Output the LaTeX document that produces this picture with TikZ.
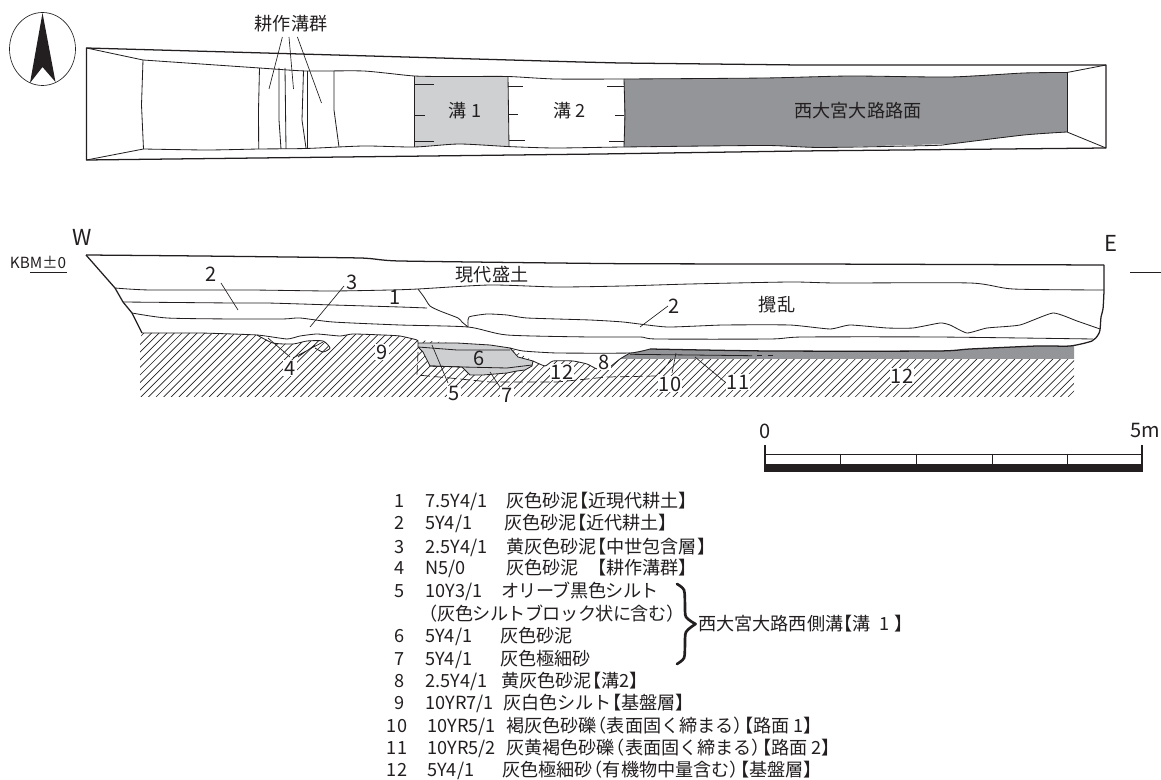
\documentclass[tikz,border=0pt]{standalone}
\usepackage{fontspec}
\setmainfont{Noto Sans CJK JP}
\newcommand{\LB}{\kern-.48em 【}
\newcommand{\RB}{】\kern-.48em }
\newcommand{\LP}{\kern-.45em （}
\newcommand{\RP}{）\kern-.45em }
\definecolor{ink}{HTML}{231F20}
\definecolor{roadgray}{HTML}{939598}
\definecolor{ditchgray}{HTML}{CFD0D2}
\definecolor{fillgray}{HTML}{CDCFD1}
\tikzset{
  lineA/.style={draw=ink,line width=0.62pt,line join=round},
  lineB/.style={draw=ink,line width=0.95pt,line join=round},
  leader/.style={draw=ink,line width=0.5pt},
  txt/.style={inner sep=0pt,text=ink,font=\fontsize{13.6}{16}\selectfont},
  lab/.style={txt,font=\fontsize{15}{17}\selectfont},
  num/.style={lab,fill=white,inner sep=0.8pt},
  row/.style={txt,anchor=base west},
  rownum/.style={txt,anchor=base},
}
\begin{document}
\begin{tikzpicture}[x=0.75pt,y=-0.75pt]
\useasboundingbox (0,0) rectangle (1161,780);
% north arrow
\draw[ink,line width=0.5pt] (42.5,49) ellipse [x radius=33,y radius=36.5];
\fill[ink] (42.5,13) -- (55.5,82) -- (42.5,67) -- (30,83) -- cycle;
% plan fills
\fill[ditchgray] (414.5,76) -- (459,76.5) -- (508,76.5) -- (509,146.6) -- (459,144) -- (414.5,147) -- cycle;
\fill[roadgray] (624,79) -- (765,78) -- (850,76) -- (950,77) -- (1024,73) -- (1067,72.5) -- (1067,132) -- (1024,135) -- (950,144) -- (821,147.5) -- (765,145.5) -- (624,147) -- cycle;
% plan outlines
\draw[lineB] (86.5,48) -- (300,54) -- (580,62) -- (620,63) -- (800,65) -- (1106,65) -- (1106,148) -- (800,151) -- (600,154) -- (86.5,160) -- cycle;
\draw[lineA] (86.5,48) -- (143,60) (86.5,160) -- (143.5,149) (1106,65) -- (1067,72.5) (1106,148) -- (1067,132);
\draw[lineA] plot[smooth,tension=.4] coordinates {(143,60) (259.5,68) (306,71) (363.5,71) (414.5,76) (459,76.5) (508,76.5) (555,79) (624,79) (765,78) (850,76) (950,77) (1024,73) (1067,72.5)};
\draw[lineA] plot[smooth,tension=.4] coordinates {(143.5,149) (207,150) (259.5,149) (306,148.5) (363.5,146) (414.5,147) (459,144) (509,146.6) (555,148) (624,147) (765,145.5) (821,147.5) (932,145.5) (950,144) (1024,135) (1067,132)};
\draw[lineA] (143,60) -- (141.5,105) -- (143.5,149);
\draw[lineA] (259.5,68) -- (258.5,110) -- (258.7,149);
\draw[lineA] (279,68) -- (279,120) -- (281,149);
\draw[lineA] (285,68) -- (286,149);
\draw[lineA] (303.5,71) -- (302,120) -- (306,148);
\draw[lineA] (307,71) -- (307,148);
\draw[lineA] (334,71) -- (334,110) -- (339,147);
\draw[lineA] (414.5,76) -- (414.5,147);
\draw[lineA] (508,76.5) -- (509,146.6);
\draw[lineA] (624,79) -- (625,115) -- (624,147);
\draw[lineA] (1067,72.5) -- (1067,132);
\draw[lineA] (414.5,84) -- (434,84) (414.5,115) -- (425,115) (414.5,141) -- (434,141);
\draw[lineA] (508,86) -- (523,86) (508,114.5) -- (518,114.5) (509,140) -- (525,140);
\draw[lineA] (607,86.7) -- (624,86.7) (615,115) -- (624,115) (609,141) -- (624,141);
\draw[leader] (282.4,37) -- (269,89) (289,37) -- (293.5,89) (297.4,37) -- (321.5,103);
\node[txt] (gunlabel) at (291,24) {耕作溝群};
\node[txt] (ditch1) at (465,111) {溝 1};
\node[txt] (ditch2) at (569.5,111) {溝 2};
\node[txt] (road) at (858,111) {西大宮大路路面};
% section: hatch
\begin{scope}
\clip (142,333) -- (200,333) -- (257,335) -- (273,343) -- (293,344) -- (307,341) -- (323,341) -- (330,348) -- (340,336) -- (353,334) -- (383,335) -- (400,336) -- (417,340) -- (510,348) -- (533,361) -- (545,366) -- (553,361) -- (573,361) -- (587,364) -- (597,369) -- (607,369) -- (620,359) -- (1074,359) -- (1074,397) -- (140,397) -- (140,340) -- cycle;
\foreach \h in {80,87.6,...,1080} \draw[ink,line width=0.48pt] (\h,397) -- (\h+64,333);
\end{scope}
% section: fills
\fill[roadgray] (620,359) -- (630,353) -- (650,349) -- (770,351) -- (937,351) -- (970,349) -- (1037,346) -- (1074,346) -- (1074,359) -- cycle;
\filldraw[fill=fillgray,lineA] (418,343) -- (457,343) -- (490,345) -- (510,348) -- (518,357) -- (533,361) -- (532,366) -- (525,370) -- (517,371) -- (507,373) -- (483,375) -- (470,375) -- (462,367) -- (430,366) -- (423,352) -- (418,347) -- cycle;
\draw[lineA] (418,347) -- (457,350) -- (510,350);
\draw[lineA] (430,366) -- (462,367) -- (507,368) -- (532,365);
% section: lines
\draw[lineB] plot[smooth,tension=.3] coordinates {(86,255) (200,256) (360,258) (400,261) (623,263.7) (807,264) (1104,265)};
\draw[lineB] (86,255) -- (115,288) -- (123,302) -- (132,313) -- (142,333);
\draw[lineB] plot[smooth,tension=.4] coordinates {(1104,265) (1104,290) (1103,309) (1101,317) (1100,330) (1098,335) (1092,341) (1070,346) (1037,346) (970,349) (937,351) (770,351) (650,349)};
\draw[lineA] plot[smooth,tension=.4] coordinates {(115,288) (150,290) (250,290) (330,291) (390,290) (418,289) (490,285) (557,287) (623,286) (690,284) (790,282) (837,283) (970,283) (1013,289) (1104,290)};
\draw[lineA] plot[smooth,tension=.4] coordinates {(123,302) (233,303) (267,303) (333,305) (400,307) (427,308)};
\draw[lineA] plot[smooth,tension=.4] coordinates {(418,289) (424,297) (430,306) (440,311) (458,318) (462,322) (468,327)};
\draw[lineA] plot[smooth,tension=.4] coordinates {(132,313) (167,318) (233,319) (283,319) (300,318) (333,322) (400,325) (468,327) (507,335) (590,337) (640,337) (657,339) (770,339) (803,337) (937,337) (1093,339)};
\draw[lineA] plot[smooth,tension=.3] coordinates {(468,327) (469,317) (487,314) (507,315) (527,318) (590,320) (623,322) (667,327) (723,325) (790,325) (830,329) (850,325) (887,328) (913,328) (940,323) (950,325) (967,333) (987,328) (1020,325) (1053,313) (1077,321) (1100,329)};
\draw[lineA] plot[smooth,tension=.3] coordinates {(142,333) (200,333) (257,335) (287,339) (300,336) (317,334) (340,336) (353,334) (383,335) (400,336) (417,340) (418,343)};
\draw[lineA] plot[smooth,tension=.4] coordinates {(257,335) (273,343) (293,344) (307,341) (323,341) (330,348) (323,352) (315,348)};
\draw[lineA] plot[smooth,tension=.3] coordinates {(510,348) (523,351) (557,353) (630,353) (650,349)};
\draw[lineA] plot[smooth,tension=.3] coordinates {(533,361) (545,366) (553,361) (573,361) (587,364) (597,369) (607,369) (620,359) (630,353)};
\draw[ink,line width=0.6pt] (630,354.3) -- (752,355.7);
\draw[ink,line width=0.6pt] (757,355.7) -- (762,355.7) (768,355.7) -- (773,355.7);
\draw[ink,line width=0.55pt,dash pattern=on 7pt off 3pt] (418,352) -- (417,375) -- (450,378) -- (490,382) -- (557,382) -- (607,377) -- (657,376) -- (667,365) -- (671,359);
% leaders
\draw[leader] (221,283) -- (238,310) (344,286) -- (310,327) (640,327) -- (668,306);
\draw[leader] (268,338) -- (290,357) (323,342) -- (293,358) (315,345) -- (298,357);
\draw[leader] (432,345) -- (448,383) (490,372) -- (500,387) (676,353) -- (672,373) (695,357) -- (725,382);
% section labels
\node[txt] (lw) at (82,237) {\fontsize{16.5}{18}\selectfont W};
\node[txt] (le) at (1111,243) {\fontsize{16.5}{18}\selectfont E};
\node[txt,font=\fontsize{11.5}{13}\selectfont] (kbm) at (38,262) {KBM±0};
\coordinate (kbmA) at (30,272); \coordinate (kbmB) at (67,272);
\draw[ink,line width=0.55pt] (kbmA) -- (kbmB);
\coordinate (etickA) at (1130,272); \coordinate (etickB) at (1161,272);
\draw[ink,line width=0.55pt] (etickA) -- (etickB);
\node[lab] (n2a) at (211,274) {2};
\node[lab] (n3) at (352,282) {3};
\node[lab] (n1) at (395,297) {1};
\node[num] (n4) at (290,368) {4};
\node[num] (n9) at (382,352) {9};
\node[txt] (modern) at (492,275) {現代盛土};
\node[txt] (distb) at (777,305) {攪乱};
\node[lab] (n2b) at (674,306) {2};
\node[lab] (n6) at (479,358) {6};
\node[num] (n8) at (604,362) {8};
\node[num] (n12a) at (562,372) {12};
\node[num] (n5) at (454,394) {5};
\node[num] (n7) at (507,395) {7};
\node[num] (n10) at (670,384) {10};
\node[num] (n11) at (738,382) {11};
\node[num] (n12b) at (902,376) {12};
% scale bar
\draw[ink,line width=0.5pt] (765,454) -- (1141,454);
\fill[ink] (764,464) rectangle (1143,472);
\draw[ink,line width=1.1pt] (765,445) -- (765,472) (1142,445) -- (1142,472);
\foreach \h in {840,916,992,1067} \draw[ink,line width=0.5pt] (\h,454) -- (\h,464);
\node[lab] (s0) at (765,431) {0};
\node[lab] (s5) at (1145,431) {5m};
% legend
\node[rownum] (r1) at (400,508) {1};   \node[row] (c1) at (425,508) {7.5Y4/1}; \node[row] (t1) at (506,508) {灰色砂泥\LB 近現代耕土\RB};
\node[rownum] (r2) at (400,530) {2};   \node[row] (c2) at (425,530) {5Y4/1};   \node[row] (t2) at (504,530) {灰色砂泥\LB 近代耕土\RB};
\node[rownum] (r3) at (400,553) {3};   \node[row] (c3) at (425,553) {2.5Y4/1}; \node[row] (t3) at (506,553) {黄灰色砂泥\LB 中世包含層\RB};
\node[rownum] (r4) at (400,575) {4};   \node[row] (c4) at (425,575) {N5/0};    \node[row] (t4) at (506,575) {灰色砂泥\quad\LB 耕作溝群\RB};
\node[rownum] (r5) at (400,597) {5};   \node[row] (c5) at (425,597) {10Y3/1};  \node[row] (t5) at (501,597) {\addfontfeature{LetterSpace=-3}オリーブ黒色シルト};
\node[row] (t5b) at (425,620) {\addfontfeature{LetterSpace=-3}\kern-.3em（灰色シルトブロック状に含む）};
\node[rownum] (r6) at (400,642) {6};   \node[row] (c6) at (425,642) {5Y4/1};   \node[row] (t6) at (500,642) {灰色砂泥};
\node[rownum] (r7) at (400,665) {7};   \node[row] (c7) at (425,665) {5Y4/1};   \node[row] (t7) at (500,665) {灰色極細砂};
\node[rownum] (r8) at (400,687) {8};   \node[row] (c8) at (425,687) {2.5Y4/1}; \node[row] (t8) at (501,687) {黄灰色砂泥\LB 溝2\RB};
\node[rownum] (r9) at (400,709) {9};   \node[row] (c9) at (425,709) {10YR7/1}; \node[row] (t9) at (503,709) {灰白色シルト\LB 基盤層\RB};
\node[rownum] (r10) at (397,732) {10}; \node[row] (c10) at (427,732) {10YR5/1}; \node[row] (t10) at (506,732) {褐灰色砂礫\LP 表面固く締まる\RP\LB 路面 1\RB};
\node[rownum] (r11) at (397,754) {11}; \node[row] (c11) at (427,754) {10YR5/2}; \node[row] (t11) at (506,754) {灰黄褐色砂礫\LP 表面固く締まる\RP\LB 路面 2\RB};
\node[rownum] (r12) at (397,776) {12}; \node[row] (c12) at (427,776) {5Y4/1};   \node[row] (t12) at (502,776) {灰色極細砂\LP 有機物中量含む\RP\LB 基盤層\RB};
\draw[ink,line width=2pt,line cap=round] plot[smooth,tension=.5] coordinates {(677,584) (684,590) (685,605) (686,617) (695.5,624)};
\draw[ink,line width=2pt,line cap=round] plot[smooth,tension=.5] coordinates {(695.5,624) (686,632) (685,645) (684,658) (677,664)};
\node[row] (t13) at (698,630) {西大宮大路西側溝\LB 溝\hspace{.45em}1\hspace{.3em}\RB};
\end{tikzpicture}
\end{document}
